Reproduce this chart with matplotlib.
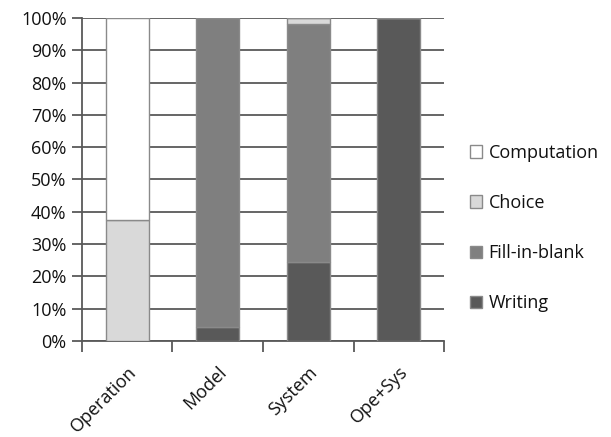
import numpy as np
import matplotlib
matplotlib.use("Agg")
from matplotlib import pyplot as plt
from matplotlib.ticker import FuncFormatter

plt.rcParams['font.family'] = ['Open Sans', 'DejaVu Sans']

categories = ['Operation', 'Model', 'System', 'Ope+Sys']
# shares per category, bottom to top
writing = [0.0, 4.4, 24.3, 100.0]
fill_in_blank = [0.0, 95.6, 73.8, 0.0]
choice = [37.5, 0.0, 1.9, 0.0]
computation = [62.5, 0.0, 0.0, 0.0]

series = [('Writing', writing, '#595959'),
          ('Fill-in-blank', fill_in_blank, '#7f7f7f'),
          ('Choice', choice, '#d9d9d9'),
          ('Computation', computation, '#ffffff')]

fig = plt.figure(figsize=(6.11, 4.37), dpi=100)
ax = fig.add_axes([0.134, 0.220, 0.593, 0.739])

x = np.arange(len(categories)) + 0.5
bottom = np.zeros(len(categories))
handles = {}
for name, vals, color in series:
    vals = np.array(vals)
    h = ax.bar(x, vals, width=0.475, bottom=bottom, color=color,
               edgecolor='#8a8a8a', linewidth=1.0, zorder=3, label=name)
    handles[name] = h
    bottom += vals

ax.set_xlim(0, len(categories))
ax.set_ylim(0, 100)
ax.set_yticks(np.arange(0, 101, 10))
ax.yaxis.set_major_formatter(FuncFormatter(lambda v, p: '%d%%' % v))
ax.grid(axis='y', color='#595959', linewidth=1.3, zorder=0)
ax.set_axisbelow(True)

ax.set_xticks(x)
ax.set_xticklabels(categories, rotation=45, ha='right', rotation_mode='anchor')
ax.set_xticks(np.arange(len(categories) + 1), minor=True)
ax.tick_params(axis='x', which='major', length=0, pad=16, labelsize=13,
               colors='#111111')
ax.tick_params(axis='x', which='minor', length=8, width=1.3, color='#595959')
ax.tick_params(axis='y', length=7, width=1.3, color='#595959', labelsize=13,
               labelcolor='#111111', pad=4)

for s in ['top', 'right']:
    ax.spines[s].set_visible(False)
for s in ['left', 'bottom']:
    ax.spines[s].set_color('#595959')
    ax.spines[s].set_linewidth(1.3)

order = ['Computation', 'Choice', 'Fill-in-blank', 'Writing']
fig.legend([handles[n] for n in order], order, loc='center left',
           bbox_to_anchor=(0.742, 0.478), frameon=False, fontsize=13,
           handlelength=0.7, handleheight=0.7, handletextpad=0.35,
           labelspacing=1.78, labelcolor='#111111')

fig.savefig('out.png', dpi=100)
